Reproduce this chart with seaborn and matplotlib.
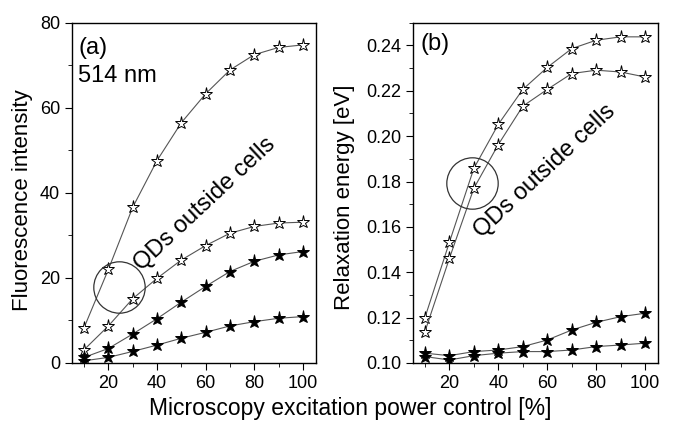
import matplotlib
matplotlib.use("Agg")
import matplotlib.pyplot as plt
import pandas as pd
import seaborn as sns
from matplotlib.ticker import MultipleLocator, FormatStrFormatter

power = [10, 20, 30, 40, 50, 60, 70, 80, 90, 100]

# (a) fluorescence intensity, 514 nm
fl_open_hi = [8.3, 22.0, 36.6, 47.6, 56.5, 63.3, 68.9, 72.5, 74.2, 74.8]
fl_open_lo = [3.1, 8.7, 15.1, 19.9, 24.2, 27.6, 30.5, 32.1, 32.9, 33.1]
fl_fill_hi = [1.3, 3.4, 6.8, 10.4, 14.3, 18.0, 21.5, 23.9, 25.4, 26.2]
fl_fill_lo = [0.5, 1.3, 2.7, 4.2, 5.8, 7.2, 8.7, 9.7, 10.5, 10.9]

# (b) relaxation energy [eV]
re_open_hi = [0.1200, 0.1532, 0.1858, 0.2052, 0.2206, 0.2303, 0.2386, 0.2423, 0.2438, 0.2438]
re_open_lo = [0.1138, 0.1461, 0.1770, 0.1963, 0.2132, 0.2206, 0.2276, 0.2291, 0.2283, 0.2261]
re_fill_hi = [0.1043, 0.1032, 0.1050, 0.1057, 0.1072, 0.1101, 0.1145, 0.1179, 0.1204, 0.1219]
re_fill_lo = [0.1028, 0.1013, 0.1032, 0.1043, 0.1050, 0.1050, 0.1057, 0.1072, 0.1079, 0.1087]

sns.set_style("ticks")
plt.rcParams["font.family"] = ["Liberation Sans", "DejaVu Sans"]
plt.rcParams.update({
    "axes.linewidth": 1.0,
    "xtick.major.size": 5, "ytick.major.size": 5,
    "xtick.minor.size": 3, "ytick.minor.size": 3,
    "xtick.color": "black", "ytick.color": "black",
    "axes.edgecolor": "black", "text.color": "black",
    "axes.labelcolor": "black",
})

fig = plt.figure(figsize=(6.85, 4.30), dpi=100)
ax_a = fig.add_axes([0.105, 0.156, 0.356, 0.791])
ax_b = fig.add_axes([0.6025, 0.156, 0.3577, 0.791])

LINE = "#555555"


def draw_series(ax, values, filled):
    df = pd.DataFrame({"power": power, "value": values})
    sns.lineplot(data=df, x="power", y="value", ax=ax, color=LINE, linewidth=0.8,
                 marker="*", markersize=9.5, markeredgewidth=0.7,
                 markeredgecolor="black",
                 markerfacecolor="black" if filled else "white")


for vals, filled in [(fl_open_hi, False), (fl_open_lo, False),
                     (fl_fill_hi, True), (fl_fill_lo, True)]:
    draw_series(ax_a, vals, filled)
for vals, filled in [(re_open_hi, False), (re_open_lo, False),
                     (re_fill_hi, True), (re_fill_lo, True)]:
    draw_series(ax_b, vals, filled)

# circles around the 20-30 % region
ax_a.plot([24.2], [17.8], marker="o", markersize=37, mfc="none", mec="#333333", mew=0.9)
ax_b.plot([29.1], [0.1794], marker="o", markersize=37, mfc="none", mec="#333333", mew=0.9)

ax_a.set_xlim(5, 105.3)
ax_a.set_ylim(0, 80)
ax_a.xaxis.set_major_locator(MultipleLocator(20))
ax_a.xaxis.set_minor_locator(MultipleLocator(10))
ax_a.yaxis.set_major_locator(MultipleLocator(20))
ax_a.yaxis.set_minor_locator(MultipleLocator(10))
ax_a.set_xlabel("")
ax_a.set_ylabel("Fluorescence intensity", fontsize=16)
ax_a.yaxis.set_label_coords(-0.16, 0.48)
ax_a.text(7.5, 74, "(a)", fontsize=17, va="center", ha="left")
ax_a.text(7.5, 67.5, "514 nm", fontsize=17, va="center", ha="left")
ax_a.text(59.8, 37.3, "QDs outside cells", fontsize=17, rotation=43,
          ha="center", va="center", rotation_mode="anchor")

ax_b.set_xlim(5, 105.2)
ax_b.set_ylim(0.10, 0.25)
ax_b.xaxis.set_major_locator(MultipleLocator(20))
ax_b.xaxis.set_minor_locator(MultipleLocator(10))
ax_b.yaxis.set_major_locator(MultipleLocator(0.02))
ax_b.yaxis.set_minor_locator(MultipleLocator(0.01))
ax_b.yaxis.set_major_formatter(FormatStrFormatter("%.2f"))
ax_b.set_xlabel("")
ax_b.set_ylabel("Relaxation energy [eV]", fontsize=16)
ax_b.yaxis.set_label_coords(-0.235, 0.487)
ax_b.text(8.0, 0.2405, "(b)", fontsize=17, va="center", ha="left")
ax_b.text(59.1, 0.1845, "QDs outside cells", fontsize=17, rotation=43,
          ha="center", va="center", rotation_mode="anchor")

for ax in (ax_a, ax_b):
    ax.tick_params(which="both", direction="out", labelsize=13, top=False, right=False)
    for side in ("top", "right", "left", "bottom"):
        ax.spines[side].set_visible(True)
        ax.spines[side].set_color("black")

fig.text(0.511, 0.05, "Microscopy excitation power control [%]", fontsize=16.5,
         ha="center", va="center")

fig.savefig("out.png", dpi=100)
